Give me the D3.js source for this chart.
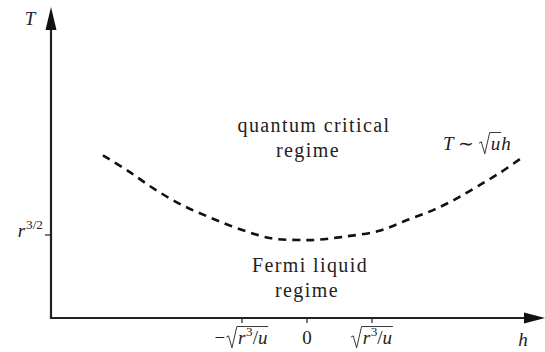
<!DOCTYPE html>
<html>
<head>
<meta charset="utf-8">
<script src="https://cdn.jsdelivr.net/npm/d3@7"></script>
</head>
<body style="margin:0; font-family: 'Liberation Serif';">
<div id="fig"></div>
<script>
const W = 545, H = 352;
const ink = "#222";

// --- Data (h in units of sqrt(r^3/u), T in units of r^{3/2}) ---
const crossoverH = [-3.14, -2.75, -2.34, -1.92, -1.49, -1.03, -0.55, -0.12, 0.11, 0.57, 1.11, 1.54, 1.94, 2.28, 2.63, 2.97, 3.32];
const crossoverT = [1.96, 1.77, 1.55, 1.36, 1.21, 1.07, 0.96, 0.94, 0.94, 0.98, 1.05, 1.18, 1.30, 1.43, 1.59, 1.75, 1.94];
const hTicks = [-1, 0, 1];
const tTicks = [1];

const svg = d3.select("#fig").append("svg")
  .attr("width", W).attr("height", H)
  .style("display", "block")
  .style("font-family", "'Liberation Serif'");

// --- Scales ---
const xs = d3.scaleLinear().domain([-1, 1]).range([242, 372]);
const ys = d3.scaleLinear().domain([0, 1]).range([318, 235]);
const hMin = xs.invert(51), hMax = xs.invert(545);
const tMax = ys.invert(7);

// --- Math text helper: pieces laid out left to right, radicals drawn as paths ---
function mathText(px, py, pieces, anchor, fs) {
  const g = svg.append("g");
  let cur = 0, radStart = null;
  for (const p of pieces) {
    if (p.rad === "open") { radStart = cur; cur += 0.62 * fs; continue; }
    if (p.rad === "close") {
      const r = radStart;
      g.append("path")
        .attr("d", `M${r},${-0.36 * fs} L${r + 0.12 * fs},${-0.43 * fs} L${r + 0.3 * fs},${0.2 * fs} L${r + 0.56 * fs},${-0.92 * fs} L${cur + 0.04 * fs},${-0.92 * fs}`)
        .attr("fill", "none").attr("stroke", ink)
        .attr("stroke-width", 0.9);
      cur += 0.05 * fs;
      continue;
    }
    const size = p.sup ? fs * 0.7 : fs;
    const tx = g.append("text")
      .attr("x", cur).attr("y", p.sup ? -0.42 * fs : 0)
      .attr("fill", ink)
      .attr("font-size", size);
    if (p.it) tx.attr("font-style", "italic");
    tx.text(p.s);
    cur += tx.node().getComputedTextLength() + (p.after || 0) * fs;
  }
  const off = anchor === "end" ? -cur : anchor === "middle" ? -cur / 2 : 0;
  g.attr("transform", `translate(${px + off},${py})`);
}

function plainText(px, py, s) {
  svg.append("text")
    .attr("x", px).attr("y", py)
    .attr("text-anchor", "middle")
    .attr("fill", ink)
    .attr("font-size", 20)
    .attr("letter-spacing", 1.4)
    .text(s);
}

// --- Crossover line (dashed) ---
const pts = crossoverH.map((h, i) => [h, crossoverT[i]]);
svg.append("path")
  .datum(pts)
  .attr("fill", "none")
  .attr("stroke", "#111")
  .attr("stroke-width", 2.6)
  .attr("stroke-dasharray", "8,6")
  .attr("d", d3.line().x((d) => xs(d[0])).y((d) => ys(d[1])).curve(d3.curveCatmullRom));

// --- Ticks (drawn as plain lines from the scales) ---
hTicks.forEach((v) => {
  svg.append("line")
    .attr("x1", xs(v)).attr("x2", xs(v)).attr("y1", ys(0)).attr("y2", ys(0) + 5)
    .attr("stroke", ink).attr("stroke-width", 1.2);
});
tTicks.forEach((v) => {
  svg.append("line")
    .attr("x1", xs(hMin) - 6).attr("x2", xs(hMin)).attr("y1", ys(v)).attr("y2", ys(v))
    .attr("stroke", ink).attr("stroke-width", 1.2);
});

// --- Axes with arrows ---
const x0 = xs(hMin), y0 = ys(0);
svg.append("line")
  .attr("x1", x0).attr("y1", y0).attr("x2", x0).attr("y2", ys(tMax) + 20)
  .attr("stroke", ink).attr("stroke-width", 2.2);
svg.append("line")
  .attr("x1", x0 - 1.1).attr("y1", y0).attr("x2", xs(hMax) - 18).attr("y2", y0)
  .attr("stroke", ink).attr("stroke-width", 2.2);
svg.append("path")
  .attr("d", `M${x0},${ys(tMax)} L${x0 + 5.5},${ys(tMax) + 23} L${x0 - 5.5},${ys(tMax) + 23} Z`)
  .attr("fill", "#111");
svg.append("path")
  .attr("d", `M${xs(hMax)},${y0} L${xs(hMax) - 21},${y0 - 5.5} L${xs(hMax) - 21},${y0 + 5.5} Z`)
  .attr("fill", "#111");

// --- Axis labels ---
const FS = 19;
mathText(30, 25, [{ s: "T", it: true }], "middle", FS);
mathText(523, 346, [{ s: "h", it: true }], "middle", FS);
mathText(43, 237, [{ s: "r", it: true, after: 0.05 }, { s: "3/2", sup: true }], "end", FS);

// --- Tick labels ---
const radicand = [{ s: "r", it: true, after: 0.03 }, { s: "3", sup: true }, { s: "/" }, { s: "u", it: true }];
mathText(xs(-1) - 0.5, 344, [{ s: "\u2212", after: 0.05 }, { rad: "open" }, ...radicand, { rad: "close" }], "middle", FS);
mathText(xs(0), 344, [{ s: "0" }], "middle", FS);
mathText(xs(1), 344, [{ rad: "open" }, ...radicand, { rad: "close" }], "middle", FS);

// --- Regime labels ---
plainText(314, 132, "quantum critical");
plainText(308, 157, "regime");
plainText(310, 272, "Fermi liquid");
plainText(307, 297, "regime");

// --- Asymptote annotation ---
mathText(443, 150, [
  { s: "T", it: true, after: 0.25 },
  { s: "\u223C", after: 0.25 },
  { rad: "open" }, { s: "u", it: true }, { rad: "close" },
  { s: "h", it: true }
], "start", FS);
</script>
</body>
</html>
